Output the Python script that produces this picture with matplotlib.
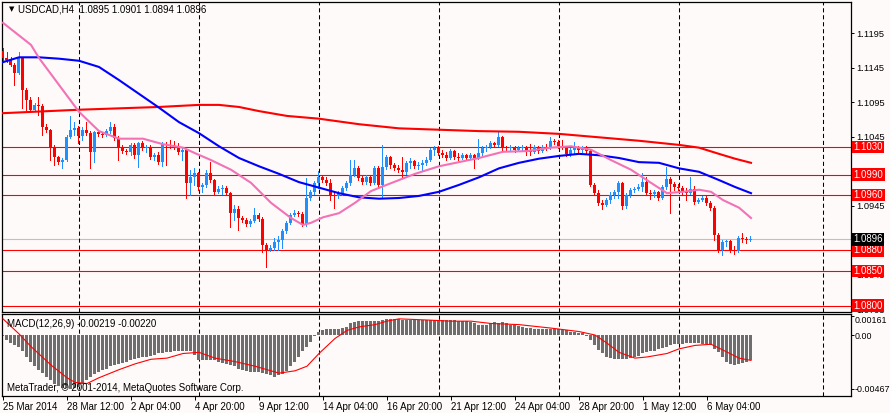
import matplotlib
matplotlib.use('Agg')
import matplotlib.pyplot as plt
import numpy as np

plt.rcParams['font.family'] = ['Liberation Sans', 'DejaVu Sans']

# ---- price data (H4 bars, bar 0 = 25 Mar 2014 20:00) ----
first_open = 1.1169
closes = [
    1.1159, 1.1156, 1.1149, 1.1137, 1.1159, 1.1113, 1.1098, 1.1084, 1.1091, 1.1089,
    1.1059, 1.1055, 1.1030, 1.1015, 1.1008, 1.1011, 1.1044, 1.1055, 1.1057, 1.1046,
    1.1055, 1.1050, 1.1023, 1.1052, 1.1049, 1.1047, 1.1053, 1.1059, 1.1043, 1.1030,
    1.1024, 1.1023, 1.1033, 1.1018, 1.1036, 1.1028, 1.1030, 1.1015, 1.1018, 1.1008,
    1.1034, 1.1033, 1.1031, 1.1030, 1.1023, 1.1026, 1.0978, 1.0986, 1.0992, 1.0972,
    1.0975, 1.0992, 1.0982, 1.0965, 1.0969, 1.0971, 1.0963, 1.0934, 1.0940, 1.0927,
    1.0924, 1.0918, 1.0923, 1.0931, 1.0926, 1.0888, 1.0881, 1.0884, 1.0892, 1.0895,
    1.0908, 1.0920, 1.0931, 1.0934, 1.0933, 1.0918, 1.0956, 1.0965, 1.0978, 1.0986,
    1.0982, 1.0978, 1.0960, 1.0959, 1.0963, 1.0971, 1.0978, 1.0989, 1.0999, 1.0985,
    1.0979, 1.0986, 1.0978, 1.0999, 1.0975, 1.1001, 1.1015, 1.1004, 1.0999, 1.0997,
    1.0994, 1.1007, 1.1010, 1.1002, 1.1004, 1.1007, 1.1011, 1.1026, 1.1029, 1.1021,
    1.1018, 1.1014, 1.1024, 1.1015, 1.1014, 1.1018, 1.1014, 1.1018, 1.1014, 1.1021,
    1.1029, 1.1030, 1.1036, 1.1033, 1.1044, 1.1030, 1.1029, 1.1030, 1.1026, 1.1029,
    1.1030, 1.1024, 1.1023, 1.1030, 1.1024, 1.1030, 1.1029, 1.1039, 1.1037, 1.1031,
    1.1030, 1.1020, 1.1026, 1.1029, 1.1026, 1.1030, 1.1024, 1.0975, 1.0963, 1.0949,
    1.0946, 1.0953, 1.0960, 1.0965, 1.0978, 1.0944, 1.0960, 1.0968, 1.0969, 1.0972,
    1.0979, 1.0963, 1.0962, 1.0965, 1.0956, 1.0972, 1.0984, 1.0976, 1.0972, 1.0971,
    1.0965, 1.0963, 1.0969, 1.0950, 1.0953, 1.0956, 1.0949, 1.0942, 1.0902, 1.0881,
    1.0892, 1.0894, 1.0881, 1.0879, 1.0898, 1.0897, 1.0895, 1.0896,
]
highs = [
    1.1174, 1.1168, 1.1160, 1.1152, 1.1168, 1.1160, 1.1116, 1.1102, 1.1094, 1.1102,
    1.1092, 1.1063, 1.1056, 1.1033, 1.1017, 1.1014, 1.1047, 1.1075, 1.1066, 1.1060,
    1.1059, 1.1066, 1.1053, 1.1053, 1.1055, 1.1052, 1.1056, 1.1066, 1.1063, 1.1046,
    1.1033, 1.1027, 1.1036, 1.1036, 1.1037, 1.1039, 1.1033, 1.1033, 1.1021, 1.1023,
    1.1037, 1.1037, 1.1040, 1.1039, 1.1036, 1.1029, 1.1027, 1.0997, 1.0999, 1.0994,
    1.0978, 1.0997, 1.1008, 1.0984, 1.0973, 1.0975, 1.0973, 1.0965, 1.0946, 1.0944,
    1.0930, 1.0927, 1.0926, 1.0942, 1.0934, 1.0928, 1.0891, 1.0888, 1.0898, 1.0901,
    1.0911, 1.0923, 1.0934, 1.0939, 1.0937, 1.0936, 1.0985, 1.0968, 1.0981, 1.0995,
    1.0989, 1.0986, 1.0984, 1.0965, 1.0966, 1.0973, 1.0981, 1.1011, 1.1011, 1.1002,
    1.0988, 1.0989, 1.0989, 1.1002, 1.1002, 1.1033, 1.1018, 1.1017, 1.1007, 1.1004,
    1.1015, 1.1010, 1.1014, 1.1011, 1.1008, 1.1011, 1.1015, 1.1029, 1.1031, 1.1031,
    1.1026, 1.1023, 1.1027, 1.1026, 1.1021, 1.1021, 1.1020, 1.1021, 1.1020, 1.1042,
    1.1031, 1.1033, 1.1039, 1.1037, 1.1052, 1.1046, 1.1031, 1.1033, 1.1031, 1.1031,
    1.1033, 1.1031, 1.1034, 1.1033, 1.1031, 1.1033, 1.1034, 1.1044, 1.1042, 1.1040,
    1.1040, 1.1031, 1.1029, 1.1037, 1.1031, 1.1031, 1.1031, 1.1026, 1.0978, 1.0968,
    1.0953, 1.0956, 1.0965, 1.0968, 1.0981, 1.0979, 1.0963, 1.0971, 1.0972, 1.0976,
    1.0992, 1.0986, 1.0968, 1.0968, 1.0966, 1.0975, 1.1001, 1.0986, 1.0979, 1.0976,
    1.0973, 1.0971, 1.0986, 1.0973, 1.0956, 1.0959, 1.0959, 1.0952, 1.0944, 1.0905,
    1.0895, 1.0895, 1.0895, 1.0886, 1.0901, 1.0905, 1.0899, 1.0901,
]
lows = [
    1.1156, 1.1153, 1.1147, 1.1120, 1.1136, 1.1087, 1.1084, 1.1082, 1.1082, 1.1076,
    1.1047, 1.1052, 1.1011, 1.1004, 1.1005, 1.0999, 1.1010, 1.1043, 1.1047, 1.1036,
    1.1040, 1.1047, 1.0999, 1.1008, 1.1046, 1.1044, 1.1046, 1.1050, 1.1040, 1.1011,
    1.1021, 1.1020, 1.1018, 1.1014, 1.1001, 1.1026, 1.1023, 1.1013, 1.1011, 1.1005,
    1.1002, 1.1004, 1.1029, 1.1027, 1.1020, 1.1011, 1.0956, 1.0960, 1.0975, 1.0968,
    1.0965, 1.0972, 1.0979, 1.0962, 1.0963, 1.0962, 1.0960, 1.0914, 1.0924, 1.0910,
    1.0921, 1.0916, 1.0916, 1.0921, 1.0923, 1.0878, 1.0856, 1.0879, 1.0881, 1.0881,
    1.0884, 1.0905, 1.0918, 1.0930, 1.0930, 1.0916, 1.0916, 1.0953, 1.0962, 1.0971,
    1.0979, 1.0975, 1.0953, 1.0942, 1.0956, 1.0960, 1.0968, 1.0975, 1.0988, 1.0982,
    1.0976, 1.0976, 1.0975, 1.0976, 1.0972, 1.0957, 1.0998, 1.0999, 1.0997, 1.0994,
    1.0986, 1.0991, 1.0999, 1.0999, 1.0998, 1.0997, 1.1004, 1.1010, 1.1018, 1.1018,
    1.1015, 1.1011, 1.1013, 1.1013, 1.1011, 1.1013, 1.1011, 1.1013, 1.0999, 1.1013,
    1.1018, 1.1024, 1.1029, 1.1030, 1.1031, 1.1026, 1.1026, 1.1026, 1.1023, 1.1024,
    1.1024, 1.1018, 1.1018, 1.1021, 1.1021, 1.1023, 1.1026, 1.1027, 1.1034, 1.1029,
    1.1027, 1.1017, 1.1017, 1.1021, 1.1023, 1.1023, 1.1021, 1.0973, 1.0960, 1.0946,
    1.0940, 1.0944, 1.0949, 1.0956, 1.0956, 1.0940, 1.0942, 1.0957, 1.0965, 1.0968,
    1.0966, 1.0960, 1.0955, 1.0957, 1.0953, 1.0955, 1.0969, 1.0934, 1.0968, 1.0968,
    1.0962, 1.0953, 1.0962, 1.0947, 1.0949, 1.0952, 1.0946, 1.0939, 1.0895, 1.0878,
    1.0873, 1.0886, 1.0878, 1.0875, 1.0878, 1.0892, 1.0891, 1.0894,
]

# moving averages, read at sample bars
pink_idx = [0, 7, 9, 14, 19, 24, 29, 35, 40, 45, 48, 52, 57, 62, 67, 72, 75, 77, 80,
            84, 88, 92, 95, 103, 109, 119, 125, 131, 137, 142, 147, 152, 157, 162,
            166, 170, 174, 177, 180, 184, 187]
pink_val = [1.1210, 1.1178, 1.1159, 1.1120, 1.1081, 1.1053, 1.1042, 1.1042, 1.1034,
            1.1029, 1.1021, 1.1011, 1.0997, 1.0978, 1.0949, 1.0927, 1.0917, 1.0920,
            1.0928, 1.0934, 1.0949, 1.0966, 1.0973, 1.0991, 1.1002, 1.1014, 1.1023,
            1.1024, 1.1029, 1.1031, 1.1026, 1.1011, 1.0997, 1.0978, 1.0963, 1.0965,
            1.0968, 1.0965, 1.0953, 1.0942, 1.0927]
blue_idx = [0, 4, 9, 14, 19, 24, 29, 34, 39, 44, 49, 54, 59, 64, 69, 74, 79, 84, 89,
            94, 99, 104, 109, 114, 119, 124, 129, 134, 139, 144, 149, 154, 159, 164,
            169, 174, 179, 183, 187]
blue_val = [1.1153, 1.1160, 1.1160, 1.1158, 1.1155, 1.1146, 1.1127, 1.1107, 1.1087,
            1.1066, 1.1050, 1.1031, 1.1014, 1.1002, 1.0991, 1.0979, 1.0971, 1.0963,
            1.0957, 1.0955, 1.0956, 1.0959, 1.0965, 1.0975, 1.0986, 1.0999, 1.1007,
            1.1013, 1.1017, 1.1020, 1.1018, 1.1014, 1.1008, 1.1007, 1.0999, 1.0994,
            1.0982, 1.0972, 1.0963]
red_idx = [0, 19, 39, 49, 54, 59, 64, 71, 79, 89, 99, 109, 119, 129, 139, 149, 159,
           169, 174, 179, 183, 187]
red_val = [1.1079, 1.1084, 1.1088, 1.1091, 1.1091, 1.1088, 1.1082, 1.1075, 1.1071,
           1.1063, 1.1057, 1.1055, 1.1053, 1.1052, 1.1049, 1.1044, 1.1039, 1.1033,
           1.1029, 1.1020, 1.1013, 1.1007]

levels = [1.1030, 1.0990, 1.0960, 1.0880, 1.0850, 1.0800]
bid = 1.0896
price_ticks = [1.0795, 1.0845, 1.0895, 1.0945, 1.0995, 1.1045, 1.1095, 1.1145, 1.1195]

# ---- MACD(12,26,9) ----
macd_hist = [
    -0.0001, -0.0004, -0.0007, -0.0009, -0.0010, -0.0014, -0.0019, -0.0023, -0.0027, -0.0030,
    -0.0033, -0.0036, -0.0039, -0.0042, -0.0044, -0.0046, -0.0046, -0.00467, -0.0046, -0.0045,
    -0.0042, -0.0039, -0.0036, -0.0034, -0.0032, -0.0030, -0.0029, -0.0027, -0.0026, -0.0025,
    -0.0024, -0.0023, -0.0022, -0.0021, -0.0020, -0.0019, -0.0019, -0.0018, -0.0017, -0.0016,
    -0.0016, -0.0015, -0.0015, -0.0014, -0.0014, -0.0014, -0.0014, -0.0014, -0.0017, -0.0022,
    -0.0022, -0.0022, -0.0022, -0.0022, -0.0023, -0.0024, -0.0025, -0.0026, -0.0027, -0.0029,
    -0.0030, -0.0031, -0.0032, -0.0032, -0.0032, -0.0033, -0.0034, -0.0035, -0.0036, -0.0035,
    -0.0034, -0.0031, -0.0027, -0.0023, -0.0019, -0.0014, -0.0010, -0.0006, -0.0001, 0.0003,
    0.0004, 0.0005, 0.0005, 0.0005, 0.0005, 0.0006, 0.0007, 0.0010, 0.0011, 0.0012,
    0.0012, 0.0012, 0.0012, 0.0012, 0.0012, 0.0013, 0.0014, 0.0014, 0.0014, 0.0014,
    0.0013, 0.0013, 0.0013, 0.0013, 0.0013, 0.0013, 0.0013, 0.0013, 0.0013, 0.0013,
    0.0013, 0.0013, 0.0013, 0.0013, 0.0012, 0.0012, 0.0012, 0.0011, 0.0010, 0.0009,
    0.0009, 0.0009, 0.0010, 0.0011, 0.0010, 0.0011, 0.0010, 0.0009, 0.0009, 0.0008,
    0.0007, 0.0006, 0.0006, 0.0005, 0.0005, 0.0005, 0.0005, 0.0005, 0.0005, 0.0005,
    0.0004, 0.0004, 0.0003, 0.0003, 0.0002, 0.00015, -0.0001, -0.0004, -0.0009, -0.0013,
    -0.0016, -0.0019, -0.0020, -0.0021, -0.0021, -0.0021, -0.0021, -0.0020, -0.0019, -0.0018,
    -0.0016, -0.0015, -0.0014, -0.0014, -0.0012, -0.0011, -0.0010, -0.0009, -0.0008, -0.0008,
    -0.0008, -0.0007, -0.0007, -0.0007, -0.0007, -0.0008, -0.0008, -0.0009, -0.0012, -0.0015,
    -0.0019, -0.0023, -0.0025, -0.0026, -0.0025, -0.0024, -0.0023, -0.0022,
]
signal_idx = [0, 4, 7, 12, 16, 18, 21, 24, 29, 33, 37, 41, 45, 49, 53, 58, 63, 66, 69,
              73, 76, 79, 83, 86, 89, 93, 96, 99, 106, 112, 117, 122, 129, 137, 144,
              148, 151, 154, 158, 161, 166, 169, 173, 177, 180, 184, 187]
signal_val = [0.0014, 0.0001, -0.0010, -0.0026, -0.0037, -0.0041, -0.0042, -0.0037,
              -0.0030, -0.0025, -0.0021, -0.0020, -0.0016, -0.0015, -0.0020, -0.0023,
              -0.0027, -0.0030, -0.0033, -0.0031, -0.0027, -0.0016, -0.0003, 0.0004,
              0.0007, 0.0009, 0.0012, 0.0014, 0.0013, 0.0012, 0.0012, 0.0010, 0.0009,
              0.0006, 0.0003, 0.0000, -0.0007, -0.0015, -0.0020, -0.0019, -0.0016,
              -0.0012, -0.0009, -0.0008, -0.0013, -0.0020, -0.0022]
macd_ticks = [0.00161, 0.0, -0.00467]
macd_ticklabels = ['0.00161', '0.00', '-0.00467']

# time axis
time_idx = [0, 16, 32, 48, 64, 80, 96, 112, 128, 144, 160, 176]
time_labels = ['25 Mar 2014', '28 Mar 12:00', '2 Apr 04:00', '4 Apr 20:00',
               '9 Apr 12:00', '14 Apr 04:00', '16 Apr 20:00', '21 Apr 12:00',
               '24 Apr 04:00', '28 Apr 20:00', '1 May 12:00', '6 May 04:00']
week_idx = [19, 49, 79, 109, 139, 169, 205]

BG = '#fffafa'
BULL = '#1e90ff'
BEAR = '#ff0000'
W, H = 890, 413
SNAP = 0.125  # nudge bars onto whole pixels (4 px per bar)


def frac(x0, y0, x1, y1):
    # pixel box -> figure fraction rect
    return [x0 / W, 1 - y1 / H, (x1 - x0) / W, (y1 - y0) / H]


def main():
    fig = plt.figure(figsize=(W / 100, H / 100), dpi=100, facecolor=BG)
    ax = fig.add_axes(frac(2, 2, 851, 312), facecolor=BG)
    axm = fig.add_axes(frac(2, 314, 851, 396), facecolor=BG, sharex=ax)

    # candles
    x = np.arange(len(closes))
    xs = x - SNAP
    c = np.array(closes)
    o = np.concatenate([[first_open], c[:-1]])
    hi = np.maximum(np.array(highs), np.maximum(o, c))
    lo = np.minimum(np.array(lows), np.minimum(o, c))
    cols = np.where(c >= o, BULL, BEAR)
    body = c - o
    small = np.abs(body) < 0.00012
    bottom = np.where(small, (o + c) / 2 - 0.00006, o)
    body = np.where(small, 0.00012, body)
    ax.vlines(xs, lo, hi, colors=cols, lw=0.72, antialiased=False, zorder=3)
    ax.bar(xs, body, bottom=bottom, width=0.75, color=cols, linewidth=0,
           antialiased=False, zorder=4)

    # moving averages
    ax.plot(red_idx, red_val, color='#ff0000', lw=1.5, zorder=5)
    ax.plot(blue_idx, blue_val, color='#0000ff', lw=1.5, zorder=5)
    ax.plot(pink_idx, pink_val, color='#f272b6', lw=1.5, zorder=6)

    # levels
    for v in levels:
        ax.axhline(v, color='#ff0000', lw=0.8, zorder=2)
    ax.axhline(bid, color='#c0c0c0', lw=0.8, zorder=1)

    for a in (ax, axm):
        for wi in week_idx:
            a.axvline(wi, color='black', lw=0.75, ls=(0, (4, 2.7)), zorder=1)
        for s in a.spines.values():
            s.set_linewidth(0.9)
        a.yaxis.tick_right()
        a.tick_params(axis='y', length=2.5, width=0.7, pad=1.2, labelsize=6.7)

    ax.set_xlim(-0.25, 212)
    ax.set_ylim(1.07907, 1.12402)
    ax.set_yticks(price_ticks)
    ax.set_yticklabels(['%.4f' % t for t in price_ticks])
    ax.tick_params(axis='x', bottom=False, labelbottom=False)

    tr = ax.get_yaxis_transform()
    for v in levels:
        ax.text(1.0032, v, '%.4f' % v, transform=tr, ha='left', va='center',
                fontsize=6.9, color='white', zorder=10, clip_on=False,
                bbox=dict(boxstyle='square,pad=0.13', fc='#ff0000', ec='none'))
    ax.text(1.0032, bid, '%.4f' % bid, transform=tr, ha='left', va='center',
            fontsize=6.9, color='white', zorder=10, clip_on=False,
            bbox=dict(boxstyle='square,pad=0.13', fc='black', ec='none'))

    # MACD panel
    axm.bar(xs, macd_hist, width=0.75, color='#6e6e6e', linewidth=0,
            antialiased=False, zorder=2)
    axm.plot(signal_idx, signal_val, color='#ff0000', lw=0.8, zorder=3)
    axm.set_ylim(-0.00528, 0.00182)
    axm.set_yticks(macd_ticks)
    axm.set_yticklabels(macd_ticklabels)
    axm.tick_params(axis='y', labelsize=6.4, pad=0.6, length=2)
    axm.get_yticklabels()[0].set_verticalalignment('top')
    axm.set_xticks(time_idx)
    axm.set_xticklabels(time_labels, ha='left')
    axm.tick_params(axis='x', length=3, width=0.7, pad=1.5, labelsize=7)

    # texts
    fig.text(9 / W, 1 - 9 / H, '\u25bc', fontsize=5, family='DejaVu Sans',
             ha='left', va='center')
    fig.text(18 / W, 1 - 9 / H, 'USDCAD,H4  1.0895 1.0901 1.0894 1.0896',
             fontsize=7, ha='left', va='center')
    fig.text(7 / W, 1 - 324 / H, 'MACD(12,26,9) -0.00219 -0.00220',
             fontsize=7, ha='left', va='center')
    fig.text(7 / W, 1 - 388 / H,
             'MetaTrader, \u00a9 2001-2014, MetaQuotes Software Corp.',
             fontsize=7, ha='left', va='center')

    fig.savefig('out.png', dpi=100, facecolor=BG)


main()
